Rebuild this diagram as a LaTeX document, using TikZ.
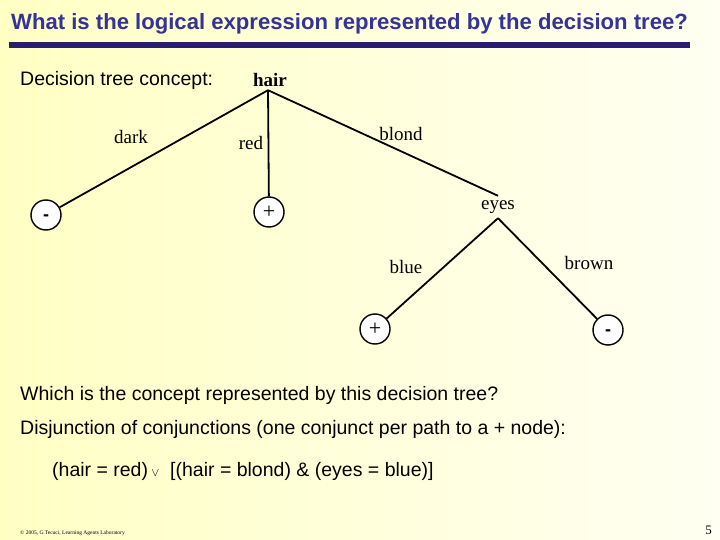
\documentclass[tikz,border=0pt]{standalone}
\usepackage{fontspec}
\setmainfont{Liberation Serif}
\newfontfamily\arialf{Liberation Sans}
\usetikzlibrary{shapes.geometric}
\definecolor{titleblue}{HTML}{333399}
\definecolor{rulenavy}{HTML}{2A1C6E}
\definecolor{bgleft}{HTML}{FFFFC4}
\definecolor{bgright}{HTML}{FFFFF2}
\tikzset{
  sanstext/.style={anchor=base west, inner sep=0pt, font=\arialf\fontsize{19.5}{22}\selectfont},
  attr/.style={inner sep=0pt, font=\fontsize{19}{22}\selectfont},
  edgelab/.style={inner sep=0pt, font=\fontsize{19}{22}\selectfont},
  leaf/.style={circle, draw, line width=1.4pt, minimum size=30pt, inner sep=0pt, fill=white},
  branch/.style={line width=1.8pt},
}
\begin{document}
\begin{tikzpicture}[x=1pt,y=-1pt]
\useasboundingbox (0,0) rectangle (720,540);
\shade[left color=bgleft, right color=bgright] (0,0) rectangle (720,540);
% title
\node[anchor=base west, inner sep=0pt, text=titleblue, font=\arialf\bfseries\fontsize{22.1}{25}\selectfont] (title) at (11,30) {What is the logical expression represented by the decision tree?};
\fill[rulenavy] (9,42) rectangle (690,48);
\node[sanstext] (concept) at (20,86) {Decision tree concept:};
% tree
\node[attr, font=\bfseries\fontsize{19}{22}\selectfont, minimum height=20pt] (hair) at (270,80) {hair};
\node[attr, minimum height=22pt] (eyes) at (498,207) {eyes};
\node[leaf] (m1) at (46,215) {};
\node[leaf] (p1) at (269,212) {};
\node[leaf] (p2) at (375,329) {};
\node[leaf] (m2) at (608,330) {};
\node[font=\arialf\bfseries\fontsize{18}{20}\selectfont] at ([yshift=-3pt]m1.center) {-};
\node[font=\arialf\bfseries\fontsize{18}{20}\selectfont] at ([yshift=-3pt]m2.center) {-};
\node[font=\fontsize{22}{24}\selectfont] at (p1.center) {+};
\node[font=\fontsize{22}{24}\selectfont] at (p2.center) {+};
\draw[branch] (hair.south) ++(-2,0) coordinate (root) -- (m1);
\draw[branch] (root) -- (p1);
\draw[branch] (root) -- (eyes.north);
\draw[branch] (eyes.south) -- (p2);
\draw[branch] (eyes.south) -- (m2);
\node[edgelab] (ldark) at (131,137) {dark};
\node[edgelab] (lred) at (251,143) {red};
\node[edgelab] (lblond) at (401,134) {blond};
\node[edgelab] (lblue) at (406,267) {blue};
\node[edgelab] (lbrown) at (589,263) {brown};
% text
\node[sanstext] (q) at (20,400) {Which is the concept represented by this decision tree?};
\node[sanstext] (d) at (20,434) {Disjunction of conjunctions (one conjunct per path to a + node):};
\node[sanstext] (expr) at (52,476) {(hair = red)\,{\fontsize{13}{14}\selectfont$\vee$}\ \ [(hair = blond) \& (eyes = blue)]};
\node[anchor=base west, inner sep=0pt, font=\fontsize{5.5}{6}\selectfont] (foot) at (20,534) {\textcopyright{} 2005, G.Tecuci, Learning Agents Laboratory};
\node[anchor=base east, inner sep=0pt, font=\fontsize{13}{14}\selectfont] (pg) at (712,534) {5};
\end{tikzpicture}
\end{document}
